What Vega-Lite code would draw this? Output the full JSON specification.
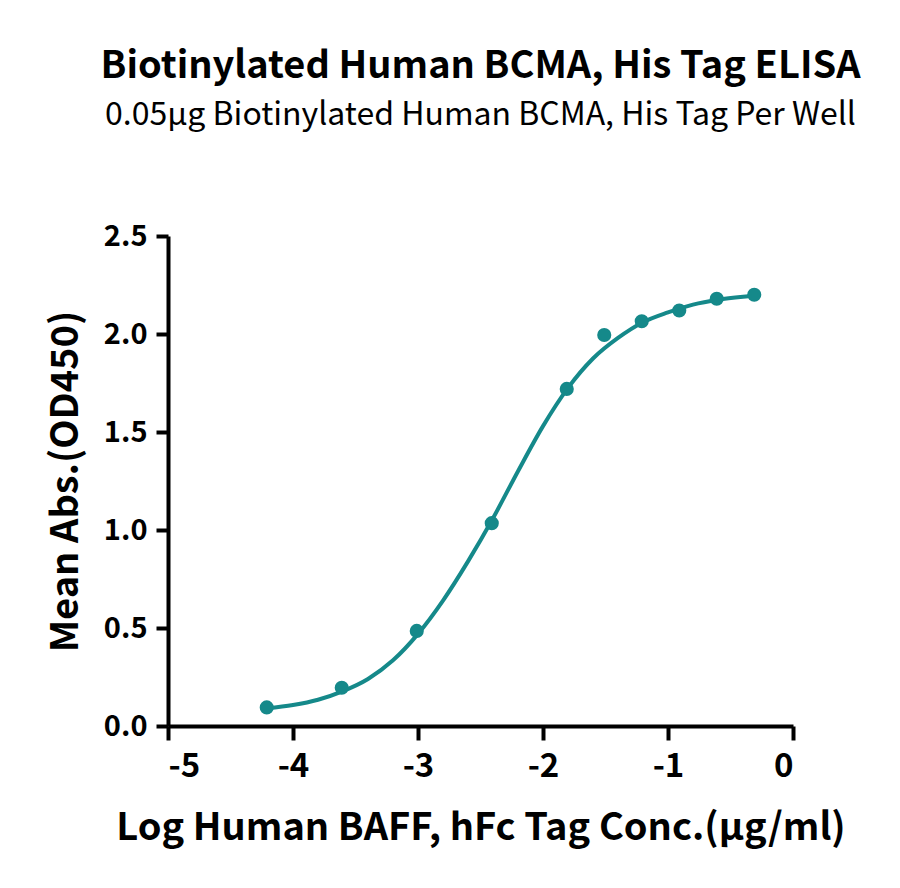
{
  "$schema": "https://vega.github.io/schema/vega-lite/v6.json",
  "autosize": "none",
  "width": 625,
  "height": 490,
  "padding": {"left": 168, "top": 236, "right": 107, "bottom": 162},
  "background": "white",
  "title": {
    "text": "Biotinylated Human BCMA, His Tag ELISA",
    "subtitle": "0.05μg Biotinylated Human BCMA, His Tag Per Well",
    "anchor": "middle",
    "font": "Noto Sans CJK SC",
    "fontSize": 38,
    "fontWeight": "bold",
    "color": "black",
    "subtitleFont": "Noto Sans CJK SC",
    "subtitleFontSize": 32,
    "subtitleColor": "black",
    "subtitlePadding": 14,
    "offset": 91
  },
  "datasets": {
    "points": [
      {"logc": -4.21, "od": 0.095},
      {"logc": -3.61, "od": 0.195},
      {"logc": -3.01, "od": 0.485},
      {"logc": -2.41, "od": 1.035},
      {"logc": -1.81, "od": 1.72},
      {"logc": -1.51, "od": 1.995},
      {"logc": -1.21, "od": 2.065},
      {"logc": -0.91, "od": 2.12},
      {"logc": -0.61, "od": 2.18},
      {"logc": -0.31, "od": 2.2}
    ],
    "fit": [
      {"logc": -4.21, "od": 0.09},
      {"logc": -4.0, "od": 0.107},
      {"logc": -3.8, "od": 0.134},
      {"logc": -3.6, "od": 0.178},
      {"logc": -3.4, "od": 0.24},
      {"logc": -3.2, "od": 0.335},
      {"logc": -3.0, "od": 0.47},
      {"logc": -2.8, "od": 0.64},
      {"logc": -2.6, "od": 0.84},
      {"logc": -2.4, "od": 1.06},
      {"logc": -2.2, "od": 1.3},
      {"logc": -2.0, "od": 1.53},
      {"logc": -1.8, "od": 1.725},
      {"logc": -1.6, "od": 1.875},
      {"logc": -1.4, "od": 1.98},
      {"logc": -1.2, "od": 2.06},
      {"logc": -1.0, "od": 2.11},
      {"logc": -0.8, "od": 2.15},
      {"logc": -0.6, "od": 2.175},
      {"logc": -0.4, "od": 2.19},
      {"logc": -0.31, "od": 2.195}
    ]
  },
  "encoding": {
    "x": {
      "field": "logc",
      "type": "quantitative",
      "scale": {"domain": [-5, 0], "nice": false, "zero": false},
      "axis": {
        "title": "Log Human BAFF, hFc Tag Conc.(μg/ml)",
        "values": [-5, -4, -3, -2, -1, 0],
        "labelExpr": "'' + datum.value",
        "labelFontSize": 33,
        "labelPadding": 10,
        "tickSize": 14,
        "titlePadding": 26
      }
    },
    "y": {
      "field": "od",
      "type": "quantitative",
      "scale": {"domain": [0, 2.5], "nice": false},
      "axis": {
        "title": "Mean Abs.(OD450)",
        "values": [0, 0.5, 1, 1.5, 2, 2.5],
        "format": ".1f",
        "labelFontSize": 29,
        "labelPadding": 9,
        "tickSize": 12,
        "titlePadding": 18
      }
    }
  },
  "layer": [
    {
      "data": {"name": "fit"},
      "mark": {"type": "line", "color": "#15898A", "strokeWidth": 4, "interpolate": "monotone"}
    },
    {
      "data": {"name": "points"},
      "mark": {"type": "circle", "color": "#15898A", "opacity": 1, "size": 200}
    }
  ],
  "config": {
    "view": {"stroke": null},
    "axis": {
      "grid": false,
      "domainColor": "black",
      "domainWidth": 4,
      "tickColor": "black",
      "tickWidth": 4,
      "labelFont": "Noto Sans CJK SC",
      "labelFontWeight": "bold",
      "labelColor": "black",
      "titleFont": "Noto Sans CJK SC",
      "titleFontSize": 38,
      "titleFontWeight": "bold",
      "titleColor": "black"
    }
  }
}
